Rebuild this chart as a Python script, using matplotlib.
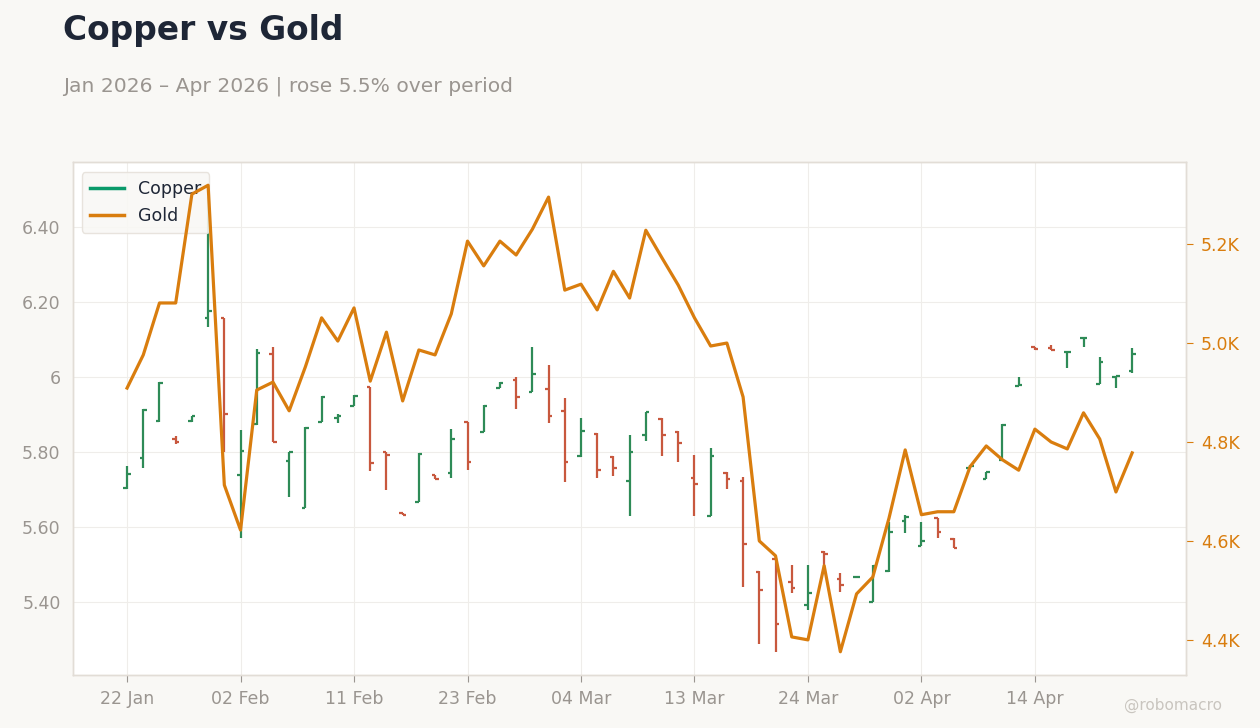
import numpy as np
import pandas as pd
import matplotlib
matplotlib.use("Agg")
import matplotlib.pyplot as plt
from matplotlib.lines import Line2D
from matplotlib.ticker import FuncFormatter

# # DATA

dates = pd.bdate_range("2026-01-22", periods=63, freq="C",
                       holidays=["2026-02-16", "2026-04-03"])

copper_open = [5.704, 5.784, 5.883, 5.835, 5.883, 6.157, 6.157, 5.739, 5.875, 6.061,
               5.776, 5.651, 5.880, 5.891, 5.923, 5.973, 5.800, 5.637, 5.667, 5.739,
               5.744, 5.880, 5.853, 5.971, 5.992, 5.960, 5.968, 5.909, 5.789, 5.848,
               5.787, 5.723, 5.845, 5.888, 5.853, 5.731, 5.629, 5.744, 5.723, 5.480,
               5.515, 5.453, 5.392, 5.533, 5.461, 5.467, 5.400, 5.483, 5.616, 5.549,
               5.624, 5.568, 5.757, 5.728, 5.779, 5.976, 6.079, 6.077, 6.065, 6.103,
               5.981, 6.000, 6.016]
copper_high = [5.763, 5.915, 5.987, 5.843, 5.896, 6.480, 6.157, 5.859, 6.075, 6.080,
               5.800, 5.867, 5.949, 5.901, 5.952, 5.973, 5.800, 5.637, 5.797, 5.739,
               5.861, 5.880, 5.925, 5.987, 6.000, 6.080, 6.032, 5.944, 5.891, 5.851,
               5.789, 5.845, 5.907, 5.891, 5.856, 5.792, 5.811, 5.747, 5.733, 5.483,
               5.517, 5.499, 5.499, 5.536, 5.477, 5.468, 5.499, 5.613, 5.632, 5.613,
               5.624, 5.571, 5.765, 5.747, 5.875, 6.000, 6.080, 6.085, 6.067, 6.104,
               6.053, 6.003, 6.077]
copper_low = [5.701, 5.757, 5.880, 5.821, 5.880, 6.133, 5.800, 5.571, 5.872, 5.827,
              5.680, 5.651, 5.880, 5.877, 5.923, 5.749, 5.699, 5.632, 5.667, 5.728,
              5.731, 5.752, 5.853, 5.971, 5.915, 5.960, 5.877, 5.720, 5.787, 5.731,
              5.736, 5.629, 5.829, 5.789, 5.773, 5.629, 5.629, 5.701, 5.440, 5.288,
              5.267, 5.424, 5.379, 5.491, 5.427, 5.466, 5.400, 5.480, 5.584, 5.549,
              5.571, 5.544, 5.757, 5.728, 5.776, 5.976, 6.072, 6.072, 6.024, 6.080,
              5.981, 5.971, 6.011]
copper_close = [5.741, 5.912, 5.984, 5.827, 5.896, 6.176, 5.901, 5.803, 6.064, 5.827,
                5.800, 5.864, 5.947, 5.896, 5.949, 5.771, 5.792, 5.632, 5.795, 5.728,
                5.835, 5.773, 5.923, 5.984, 5.947, 6.008, 5.896, 5.773, 5.856, 5.752,
                5.757, 5.800, 5.907, 5.845, 5.824, 5.715, 5.789, 5.728, 5.555, 5.432,
                5.341, 5.437, 5.424, 5.528, 5.445, 5.467, 5.496, 5.587, 5.627, 5.563,
                5.587, 5.544, 5.763, 5.747, 5.872, 5.979, 6.073, 6.072, 6.067, 6.104,
                6.040, 6.001, 6.061]

gold = [4909, 4976, 5081, 5081, 5301, 5319, 4713, 4622, 4905, 4921,
        4863, 4952, 5051, 5004, 5071, 4923, 5022, 4883, 4986, 4976,
        5059, 5206, 5156, 5206, 5178, 5230, 5295, 5107, 5119, 5067,
        5145, 5091, 5228, 5172, 5117, 5051, 4994, 5000, 4891, 4600,
        4570, 4406, 4400, 4550, 4376, 4493, 4527, 4646, 4784, 4653,
        4659, 4659, 4750, 4792, 4764, 4743, 4826, 4800, 4786, 4859,
        4806, 4699, 4778]

# # STYLE

bg_color = "#f9f8f5"
up_color = "#2e8b57"
down_color = "#c8583e"
gold_color = "#d97d0e"
legend_green = "#0a9a6a"
text_gray = "#9a9590"
title_color = "#1e2636"

plt.rcParams["font.family"] = ["DejaVu Sans"]

fig = plt.figure(figsize=(12.6, 7.28), dpi=100, facecolor=bg_color)
ax = fig.add_axes([0.058, 0.0728, 0.883, 0.7047])
ax.set_facecolor("white")
ax2 = ax.twinx()

x = np.arange(len(dates))
o = np.array(copper_open)
h = np.array(copper_high)
l = np.array(copper_low)
c = np.array(copper_close)
colors = np.where(c >= o, up_color, down_color)

# # OHLC BARS

tick_w = 0.22
ax.vlines(x, l, h, colors=colors, linewidth=1.6, zorder=3)
ax.hlines(o, x - tick_w, x, colors=colors, linewidth=1.6, zorder=3)
ax.hlines(c, x, x + tick_w, colors=colors, linewidth=1.6, zorder=3)

# # GOLD LINE

ax2.plot(x, gold, color=gold_color, linewidth=2.3, zorder=4)

# # AXES

ax.set_xlim(-3.33, 65.3)
ax.set_ylim(5.205, 6.573)
ax2.set_ylim(4329, 5366)

ax.set_yticks([5.4, 5.6, 5.8, 6.0, 6.2, 6.4])
ax.yaxis.set_major_formatter(FuncFormatter(
    lambda v, p: f"{v:.0f}" if abs(v - round(v)) < 1e-9 else f"{v:.2f}"))
ax2.set_yticks([4400, 4600, 4800, 5000, 5200])
ax2.yaxis.set_major_formatter(FuncFormatter(lambda v, p: f"{v / 1000:.1f}K"))

tick_idx = list(range(0, len(dates), 7))
ax.set_xticks(tick_idx)
ax.set_xticklabels([dates[i].strftime("%d %b") for i in tick_idx])

ax.grid(True, color="#efedea", linewidth=0.8)
ax.set_axisbelow(True)

for a in (ax, ax2):
    for s in a.spines.values():
        s.set_color("#e2ddd6")
        s.set_linewidth(1.0)

ax.tick_params(axis="x", colors=text_gray, labelsize=12.5, length=5, pad=6)
ax.tick_params(axis="y", colors=text_gray, labelsize=12.5, length=0, pad=9)
ax2.tick_params(axis="y", colors=gold_color, labelsize=12.5, length=5, pad=6)

# # LEGEND

handles = [Line2D([], [], color=legend_green, linewidth=2.5),
           Line2D([], [], color=gold_color, linewidth=2.5)]
leg = ax.legend(handles, ["Copper", "Gold"], loc="upper left", fontsize=12.5,
                frameon=True, facecolor=bg_color, edgecolor="#e6e1da",
                framealpha=0.9, borderpad=0.45, handlelength=2.0,
                bbox_to_anchor=(0.0, 0.997))
for t in leg.get_texts():
    t.set_color(title_color)
leg.set_zorder(5)

# # TITLES

fig.text(0.05, 0.958, "Copper vs Gold", fontsize=23.7, fontweight="bold",
         color=title_color, va="center", ha="left")
fig.text(0.05, 0.882, "Jan 2026 \u2013 Apr 2026 | rose 5.5% over period",
         fontsize=14.6, color=text_gray, va="center", ha="left")
fig.text(0.97, 0.031, "@robomacro", fontsize=11, color="#c9c5bf",
         va="center", ha="right")

fig.savefig("out.png", dpi=100, facecolor=bg_color)
